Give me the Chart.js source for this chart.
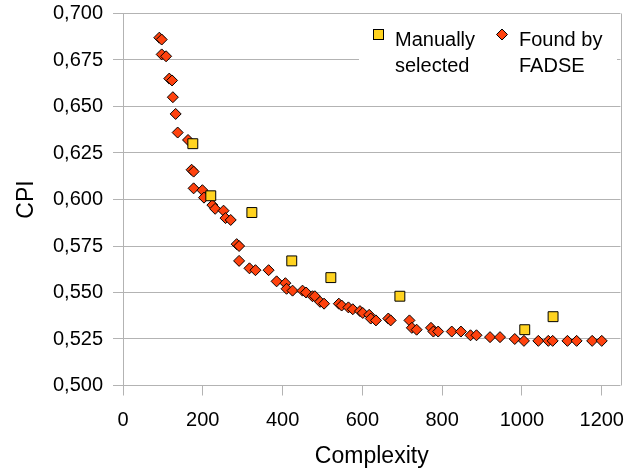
<!DOCTYPE html>
<html>
<head>
<meta charset="utf-8">
<script src="https://cdn.jsdelivr.net/npm/chart.js@4/dist/chart.umd.min.js"></script>
<style>
  html, body { margin: 0; padding: 0; background: #fff; }
  #wrap { width: 644px; height: 473px; }
</style>
</head>
<body>
<div id="wrap"><canvas id="cpiChart" width="644" height="473"></canvas></div>
<script>
// === DATA ===
const manualX = [175, 220, 323, 423, 521, 694, 1007, 1078];
const manualY = [0.630, 0.602, 0.593, 0.567, 0.558, 0.548, 0.530, 0.537];

const fadseX = [91, 97, 97, 108, 116, 123, 125, 132, 137, 163,
  172, 177, 177, 199, 203, 224, 231, 252, 257, 270,
  285, 291, 291, 317, 332, 365, 385, 407, 410, 425,
  450, 459, 475, 481, 494, 504, 541, 548, 565, 576,
  594, 601, 617, 621, 634, 665, 671, 718, 724, 736,
  772, 778, 790, 824, 847, 871, 886, 920, 945, 982,
  1005, 1041, 1066, 1077, 1114, 1137, 1176, 1200];
const fadseY = [0.687, 0.686, 0.678, 0.677, 0.665, 0.664, 0.655, 0.646, 0.636, 0.632,
  0.616, 0.615, 0.606, 0.605, 0.601, 0.597, 0.595, 0.594, 0.590, 0.589,
  0.576, 0.575, 0.567, 0.563, 0.562, 0.562, 0.556, 0.555, 0.552, 0.551,
  0.551, 0.550, 0.548, 0.548, 0.545, 0.544, 0.544, 0.543, 0.542, 0.541,
  0.540, 0.539, 0.538, 0.536, 0.535, 0.536, 0.535, 0.535, 0.531, 0.530,
  0.531, 0.529, 0.529, 0.529, 0.529, 0.527, 0.527, 0.526, 0.526, 0.525,
  0.524, 0.524, 0.524, 0.524, 0.524, 0.524, 0.524, 0.524];

const yTicks = [0.500, 0.525, 0.550, 0.575, 0.600, 0.625, 0.650, 0.675, 0.700];
const xTicks = [0, 200, 400, 600, 800, 1000, 1200];

const FONT = 'Liberation Sans, Arial, sans-serif';
const GRID = '#b3b3b3';
const YELLOW = '#ffd320';
const ORANGE = '#ff420e';

const toPoints = (xs, ys) => xs.map((x, i) => ({ x: x, y: ys[i] }));

// === LEGEND + RIGHT BORDER ===
const frame = {
  id: 'frame',
  beforeDatasetsDraw(chart) {
    const { ctx, chartArea: a } = chart;
    ctx.save();
    ctx.strokeStyle = GRID;
    ctx.lineWidth = 1;
    ctx.beginPath();
    ctx.moveTo(Math.round(a.right) + 0.5, a.top);
    ctx.lineTo(Math.round(a.right) + 0.5, a.bottom);
    ctx.stroke();
    ctx.restore();
  },
  afterDraw(chart) {
    const ctx = chart.ctx;
    ctx.save();
    ctx.fillStyle = '#fff';
    ctx.fillRect(359, 16, 258, 72);

    // square marker
    ctx.fillStyle = YELLOW;
    ctx.strokeStyle = '#000';
    ctx.lineWidth = 1;
    ctx.fillRect(373.5, 29.5, 10, 10);
    ctx.strokeRect(373.5, 29.5, 10, 10);

    // diamond marker
    ctx.fillStyle = ORANGE;
    ctx.beginPath();
    ctx.moveTo(502, 29);
    ctx.lineTo(507.5, 34.5);
    ctx.lineTo(502, 40);
    ctx.lineTo(496.5, 34.5);
    ctx.closePath();
    ctx.fill();
    ctx.stroke();

    ctx.fillStyle = '#000';
    ctx.font = '20px ' + FONT;
    ctx.textBaseline = 'alphabetic';
    ctx.fillText('Manually', 395, 46);
    ctx.fillText('selected', 395, 72);
    ctx.fillText('Found by', 519, 46);
    ctx.fillText('FADSE', 519, 72);
    ctx.restore();
  }
};

new Chart(document.getElementById('cpiChart'), {
  type: 'scatter',
  data: {
    datasets: [
      {
        label: 'Manually selected',
        data: toPoints(manualX, manualY),
        pointStyle: 'rect',
        pointRadius: 7,
        backgroundColor: YELLOW,
        borderColor: '#000',
        borderWidth: 1
      },
      {
        label: 'Found by FADSE',
        data: toPoints(fadseX, fadseY),
        pointStyle: 'rectRot',
        pointRadius: 5.5,
        backgroundColor: ORANGE,
        borderColor: '#000',
        borderWidth: 1
      }
    ]
  },
  options: {
    responsive: false,
    animation: false,
    events: [],
    layout: { padding: { top: 13.5, right: 23.5, left: 0, bottom: 0 } },
    plugins: { legend: { display: false }, tooltip: { enabled: false } },
    scales: {
      x: {
        type: 'linear',
        min: 0,
        max: 1247,
        afterFit: s => { s.height = 87.5; s.paddingLeft = 0; s.paddingRight = 0; },
        afterBuildTicks: s => { s.ticks = xTicks.map(v => ({ value: v })); },
        grid: { drawOnChartArea: false, drawTicks: true, tickLength: 10, color: GRID },
        border: { display: false },
        ticks: { color: '#000', padding: 13, font: { family: FONT, size: 20 }, maxRotation: 0, callback: v => String(v) },
        title: { display: true, text: 'Complexity', color: '#000', font: { family: FONT, size: 23 }, padding: { top: 0, bottom: 3 } }
      },
      y: {
        min: 0.5,
        max: 0.7,
        afterFit: s => { s.width = 123; s.paddingTop = 0; s.paddingBottom = 0; },
        afterBuildTicks: s => { s.ticks = yTicks.map(v => ({ value: v })); },
        grid: { color: GRID, tickLength: 10 },
        border: { color: GRID },
        ticks: {
          color: '#000', padding: 10, font: { family: FONT, size: 20 },
          callback: v => v.toFixed(3).replace('.', ',')
        },
        title: { display: true, text: 'CPI', color: '#000', font: { family: FONT, size: 23 }, padding: { top: 13, bottom: 0 } }
      }
    }
  },
  plugins: [frame]
});
</script>
</body>
</html>
